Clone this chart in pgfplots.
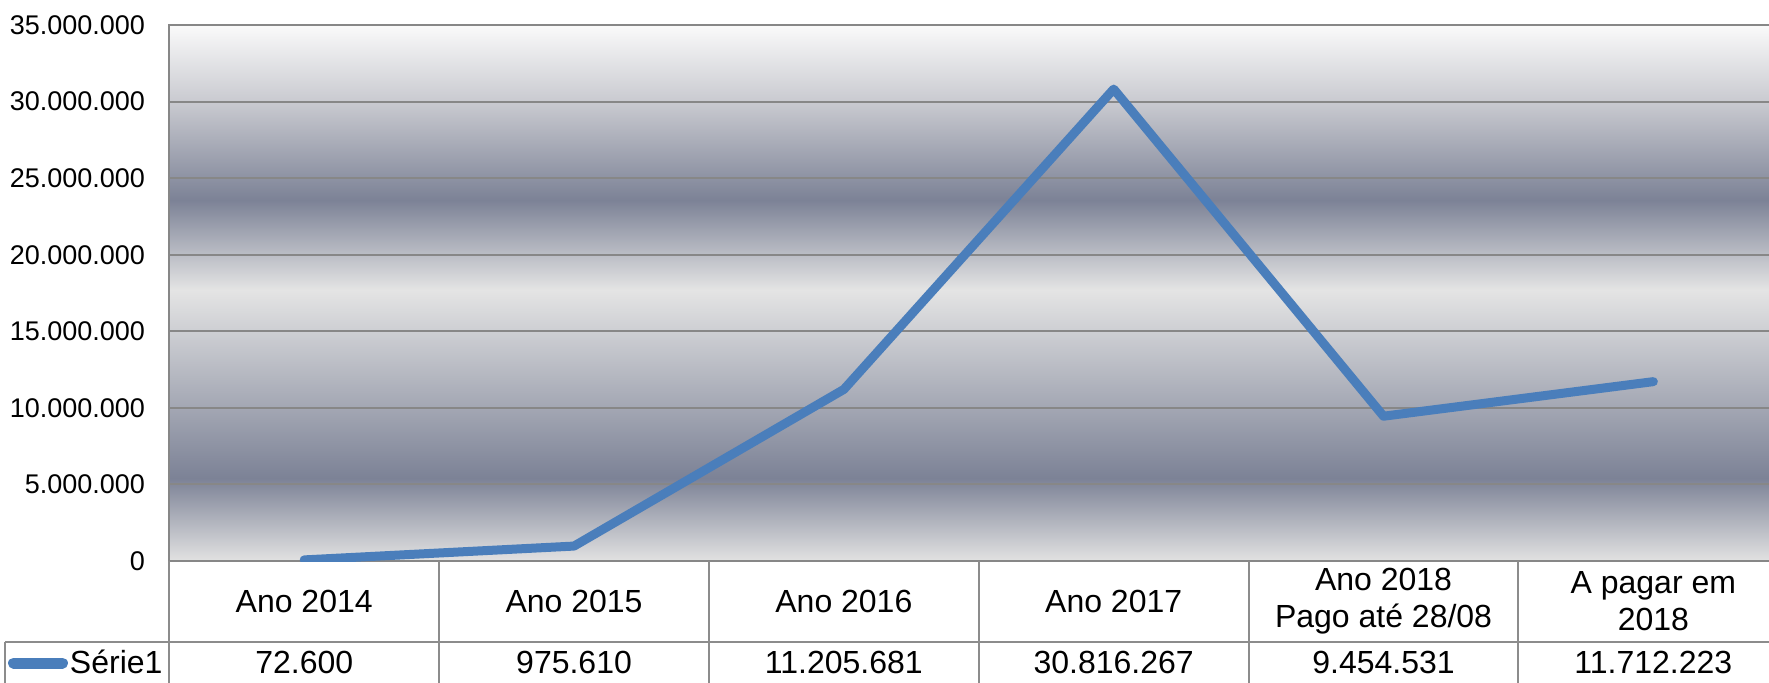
\documentclass[border=0pt]{standalone}
\usepackage{fontspec}
\setmainfont{Liberation Sans}
\usepackage{pgfplots}
\pgfplotsset{compat=1.18}
\definecolor{lineblue}{HTML}{4A7EBB}
\definecolor{gridgray}{HTML}{878787}
\definecolor{tablegray}{HTML}{8C8C8C}
\definecolor{bgA}{HTML}{E2E2E2}
\definecolor{bgB}{HTML}{7C8296}
\definecolor{bgC}{HTML}{E4E4E4}
\definecolor{bgD}{HTML}{C9CAD0}
\definecolor{bgE}{HTML}{FAFAFA}
\pgfdeclareverticalshading{excelbg}{100bp}{color(0bp)=(bgA); color(25bp)=(bgA); color(32.74bp)=(bgB); color(50.28bp)=(bgC); color(58.68bp)=(bgB); color(67.82bp)=(bgD); color(75bp)=(bgE); color(100bp)=(bgE)}

\begin{document}
\begin{tikzpicture}
\useasboundingbox (-84.65pt,-60.5pt) rectangle (799.85pt,280.5pt);
\begin{axis}[
  scale only axis, width=809.5pt, height=268pt,
  at={(0,0)}, anchor=south west,
  xmin=-0.5, xmax=5.5, ymin=0, ymax=35000000,
  scaled y ticks=false,
  axis background/.style={shading=excelbg},
  axis line style={gridgray, line width=1pt},
  ymajorgrids, grid style={gridgray, line width=1pt},
  major tick length=0pt,
  ytick={0,5000000,10000000,15000000,20000000,25000000,30000000,35000000},
  yticklabels={0,5.000.000,10.000.000,15.000.000,20.000.000,25.000.000,30.000.000,35.000.000},
  yticklabel style={font=\fontsize{13.5}{16}\selectfont, inner sep=0pt, anchor=east, xshift=-12pt},
  xtick={0,1,2,3,4,5},
  xticklabels={Ano 2014, Ano 2015, Ano 2016, Ano 2017, {Ano 2018\\Pago até 28/08}, {A pagar em\\2018}},
  xticklabel style={font=\fontsize{16}{18.5}\selectfont, align=center, inner sep=0pt, anchor=center, yshift=-20.25pt},
  extra x ticks={0,1,2,3,4,5},
  extra x tick labels={72.600, 975.610, 11.205.681, 30.816.267, 9.454.531, 11.712.223},
  extra x tick style={xticklabel style={yshift=-30.25pt}},
]
\addplot[lineblue, line width=4.5pt, line join=round, line cap=round]
  coordinates {(0,72600) (1,975610) (2,11205681) (3,30816267) (4,9454531) (5,11712223)};
\end{axis}
\draw[tablegray, line width=1pt] (-82.15pt,-40.5pt) -- (830pt,-40.5pt);
\draw[tablegray, line width=1pt] (-82.15pt,-40.5pt) -- (-82.15pt,-62pt);
\foreach \k in {0,1,2,3,4,5,6} {
  \draw[tablegray, line width=1pt] (\k*134.917pt,0pt) -- (\k*134.917pt,-62pt);
}
% legend key of the data table
\draw[lineblue, line width=5.5pt, line cap=round] (-77.9pt,-51pt) -- (-53.4pt,-51pt);
\node[anchor=base east, inner sep=0pt, font=\fontsize{16}{18}\selectfont] at (-3.2pt,-56pt) {Série1};
\end{tikzpicture}
\end{document}
